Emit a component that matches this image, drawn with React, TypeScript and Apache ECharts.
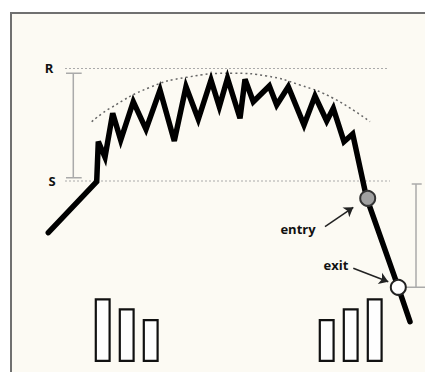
import React, { useEffect, useRef } from "react";
import * as echarts from "echarts";

// Price path (x position, price level)
const priceX = [48.3, 96.7, 98.3, 105, 112.7, 120.7, 133.3, 146, 160, 174.3, 186, 198.3, 211, 219.3, 227.5, 240, 245, 253.3, 269.3, 276.7, 288.3, 304, 315, 326.7, 333.3, 344, 352.7, 366.5, 398.3, 410];
const priceY = [129.3, 180.3, 220.3, 204.7, 248.7, 222, 260.3, 232.7, 272, 221, 275.3, 242.7, 282, 255.3, 283.7, 243.7, 282.7, 260.3, 276, 257, 275.3, 237, 266, 241, 253.7, 220.3, 228, 164.5, 74.7, 40.3];

// Rounding (dotted) arc
const arcX = [91.7, 110, 150, 186.7, 233.3, 266.7, 300, 333.3, 370];
const arcY = [240.3, 253.7, 274.7, 284.7, 288.7, 286, 277, 263.7, 240.3];

// Support / resistance levels
const levelR = 293.5;
const levelS = 181;

// Volume bars
const volX = [102.7, 126.7, 150.7, 326.7, 350.7, 374.7];
const volY = [63.7, 53.7, 43, 43, 53.7, 63.7];

// Entry / exit points
const entryPt = [367.7, 163.7];
const exitPt = [398.3, 74.7];

export default function App() {
  const ref = useRef<HTMLDivElement>(null);
  useEffect(() => {
    if (!ref.current) return;
    const chart = echarts.init(ref.current, null, { renderer: "svg" });
    const font = "'Open Sans', sans-serif";
    const txt = (text: string, x: number, y: number, size: number) => ({
      type: "text",
      x,
      y,
      z: 100,
      style: { text, font: `bold ${size}px ${font}`, fill: "#111", align: "center", verticalAlign: "middle" },
    });
    const option = {
      animation: false,
      backgroundColor: "#ffffff",
      grid: { left: 0, right: 0, top: 0, bottom: 0 },
      xAxis: { type: "value", min: 0, max: 425, show: false },
      yAxis: { type: "value", min: -10, max: 362, show: false },
      graphic: [
        {
          type: "rect",
          z: -10,
          shape: { x: 11, y: 13, width: 440, height: 380 },
          style: { fill: "#fcfaf3", stroke: "#707070", lineWidth: 2 },
        },
        txt("R", 49, 68, 13),
        txt("S", 52, 181, 13),
        txt("entry", 298, 229, 13),
        txt("exit", 336, 265, 13),
      ],
      series: [
        {
          type: "line",
          data: [[65, levelR], [388, levelR]],
          symbol: "none",
          lineStyle: { color: "#aaa", width: 1, type: [2, 2] },
        },
        {
          type: "line",
          data: [[65, levelS], [390, levelS]],
          symbol: "none",
          lineStyle: { color: "#aaa", width: 1, type: [2, 2] },
        },
        {
          type: "line",
          data: arcX.map((x, i) => [x, arcY[i]]),
          smooth: true,
          symbol: "none",
          lineStyle: { color: "#666", width: 1.5, type: [2, 3] },
        },
        {
          type: "line",
          data: [[66, 288.7], [81.7, 288.7], [73.3, 288.7], [73.3, 184.3], [66, 184.3], [81.7, 184.3]],
          symbol: "none",
          lineStyle: { color: "#aaa", width: 1.5 },
        },
        {
          type: "line",
          data: [[411.7, 178], [421.7, 178], [416, 178], [416, 74.7], [406, 74.7], [425, 74.7]],
          symbol: "none",
          lineStyle: { color: "#aaa", width: 1.5 },
        },
        {
          type: "bar",
          data: volX.map((x, i) => [x, volY[i]]),
          barWidth: 16,
          itemStyle: { color: "#fefefe", borderColor: "#111", borderWidth: 2.2 },
        },
        {
          type: "line",
          data: priceX.map((x, i) => [x, priceY[i]]),
          symbol: "none",
          z: 5,
          lineStyle: { color: "#000", width: 5.5, join: "miter", cap: "round" },
        },
        {
          type: "lines",
          coordinateSystem: "cartesian2d",
          symbol: ["none", "arrow"],
          symbolSize: 9,
          z: 6,
          lineStyle: { color: "#222", width: 1.5, opacity: 1 },
          data: [
            { coords: [[325, 135.3], [353.3, 154.7]] },
            { coords: [[353.3, 93.7], [388.3, 80.3]] },
          ],
        },
        {
          type: "scatter",
          z: 7,
          symbolSize: 15,
          itemStyle: { opacity: 1 },
          data: [
            { value: entryPt, itemStyle: { color: "#a0a0a0", borderColor: "#333", borderWidth: 2, opacity: 1 } },
            { value: exitPt, itemStyle: { color: "#ffffff", borderColor: "#222", borderWidth: 2, opacity: 1 } },
          ],
        },
      ],
    };
    chart.setOption(option as any);
    return () => chart.dispose();
  }, []);
  return <div ref={ref} style={{ position: "fixed", left: 0, top: 0, width: 425, height: 372 }} />;
}
